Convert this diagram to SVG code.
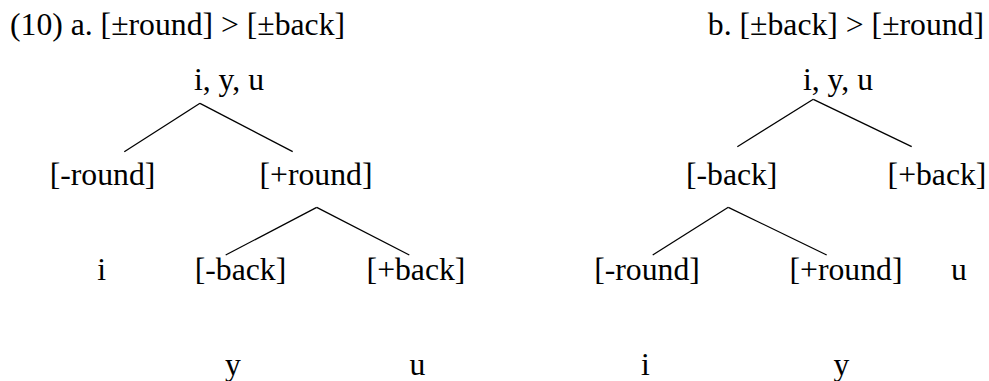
<svg xmlns="http://www.w3.org/2000/svg" width="989" height="381" viewBox="0 0 989 381">
<style>
text{font-family:"Liberation Serif","Times New Roman",serif;font-size:31.7px;fill:#000}
.m{text-anchor:middle}
.e line{stroke:#000;stroke-width:1.3}
</style>
<rect width="989" height="381" fill="#fff"/>
<g id="title-a"><text x="10" y="35">(10) a. [±round] &gt; [±back]</text></g>
<g id="title-b"><text x="984" y="35" text-anchor="end">b. [±back] &gt; [±round]</text></g>
<g class="e" id="connectors">
<line x1="200" y1="103.3" x2="124.3" y2="151.7"/>
<line x1="200" y1="103.3" x2="292.7" y2="151.7"/>
<line x1="316.7" y1="207.3" x2="225.7" y2="255"/>
<line x1="316.7" y1="207.3" x2="409.3" y2="255"/>
<line x1="813.3" y1="99.3" x2="737.3" y2="146.7"/>
<line x1="813.3" y1="99.3" x2="911.7" y2="146.7"/>
<line x1="728.3" y1="207.3" x2="652.7" y2="255"/>
<line x1="728.3" y1="207.3" x2="826.7" y2="255"/>
</g>
<g id="a-root"><text class="m" x="229" y="90">i, y, u</text></g>
<g id="a-minus-round"><text class="m" x="102.5" y="185">[-round]</text></g>
<g id="a-plus-round"><text class="m" x="316" y="185">[+round]</text></g>
<g id="a-i"><text class="m" x="101.7" y="280">i</text></g>
<g id="a-minus-back"><text class="m" x="240.5" y="280">[-back]</text></g>
<g id="a-plus-back"><text class="m" x="416" y="280">[+back]</text></g>
<g id="a-y"><text class="m" x="233" y="375">y</text></g>
<g id="a-u"><text class="m" x="417.5" y="375">u</text></g>
<g id="b-root"><text class="m" x="838" y="90">i, y, u</text></g>
<g id="b-minus-back"><text class="m" x="731.7" y="185">[-back]</text></g>
<g id="b-plus-back"><text class="m" x="937" y="185">[+back]</text></g>
<g id="b-minus-round"><text class="m" x="647" y="280">[-round]</text></g>
<g id="b-plus-round"><text class="m" x="846" y="280">[+round]</text></g>
<g id="b-u"><text class="m" x="958.8" y="280">u</text></g>
<g id="b-i"><text class="m" x="645.5" y="375">i</text></g>
<g id="b-y"><text class="m" x="841.3" y="375">y</text></g>
</svg>
